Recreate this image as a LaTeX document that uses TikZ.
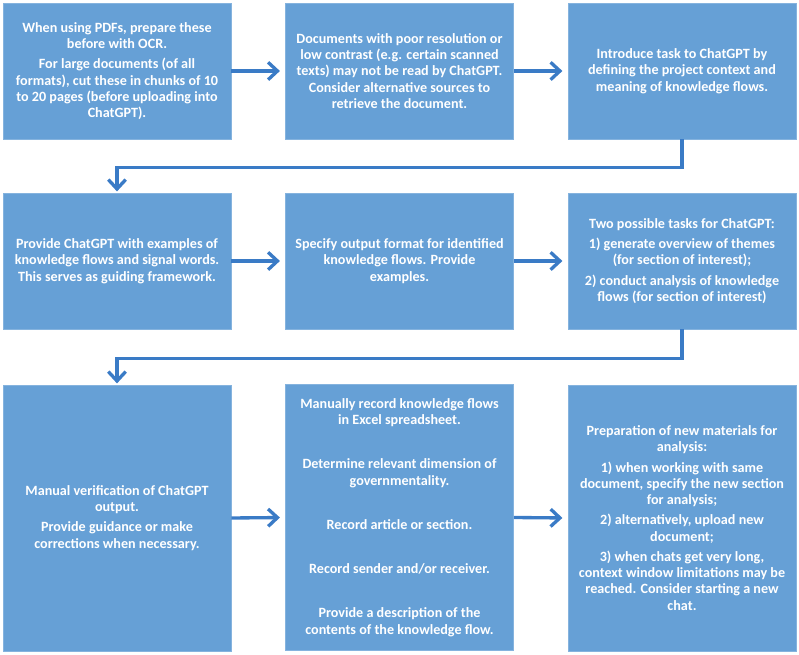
\documentclass[tikz,border=0pt]{standalone}
\usepackage{fontspec}
\setmainfont{Carlito}
\usetikzlibrary{arrows.meta}
\definecolor{boxblue}{RGB}{102,160,214}
\definecolor{arrblue}{RGB}{58,123,198}
\begin{document}
\begin{tikzpicture}[x=0.75pt,y=-0.75pt,
  box/.style={fill=boxblue, draw=boxblue!80!white, line width=0.4pt, inner sep=0pt,
    minimum width=171pt, align=center, text=white,
    font=\fontsize{10.6}{12.2}\selectfont\bfseries},
  rowa/.style={minimum height=102pt},
  rowc/.style={minimum height=199.5pt},
  arr/.style={draw=arrblue, line width=2.5pt, -{Straight Barb[length=7pt,width=13pt,line width=2.5pt]}}]
\useasboundingbox (0,0) rectangle (799,655);
% row 1
\node[box,rowa] (b1) at (117,71) {When using PDFs, prepare these\\ before with OCR.\\[3pt]
For large documents (of all\\ formats), cut these in chunks of 10\\ to 20 pages (before uploading into\\ ChatGPT).};
\node[box,rowa] (b2) at (399.5,71) {Documents with poor resolution or\\ low contrast (e.g. certain scanned\\ texts) may not be read by ChatGPT.\\ Consider alternative sources to\\ retrieve the document.};
\node[box,rowa] (b3) at (682,71) {Introduce task to ChatGPT by\\ defining the project context and\\ meaning of knowledge flows.};
% row 2
\node[box,rowa] (b4) at (117,261) {Provide ChatGPT with examples of\\ knowledge flows and signal words.\\ This serves as guiding framework.};
\node[box,rowa] (b5) at (399.5,261) {Specify output format for identified\\ knowledge flows. Provide\\ examples.};
\node[box,rowa] (b6) at (682,261) {Two possible tasks for ChatGPT:\\[3pt]
1) generate overview of themes\\ (for section of interest);\\[3pt]
2) conduct analysis of knowledge\\ flows (for section of interest)};
% row 3
\node[box,rowc] (b7) at (117,518) {Manual verification of ChatGPT\\ output.\\[3pt]
Provide guidance or make\\ corrections when necessary.};
\node[box,rowc] (b8) at (399.5,517.5) {Manually record knowledge flows\\ in Excel spreadsheet.\\[21pt]
Determine relevant dimension of\\ governmentality.\\[21pt]
Record article or section.\\[21pt]
Record sender and/or receiver.\\[21pt]
Provide a description of the\\ contents of the knowledge flow.};
\node[box,rowc] (b9) at (682,518) {Preparation of new materials for\\ analysis:\\[3pt]
1) when working with same\\ document, specify the new section\\ for analysis;\\[3pt]
2) alternatively, upload new\\ document;\\[3pt]
3) when chats get very long,\\ context window limitations may be\\ reached. Consider starting a new\\ chat.};
% connectors
\draw[arr, shorten >=4pt] (b1.east) -- (b2.west);
\draw[arr, shorten >=4pt] (b2.east) -- (b3.west);
\draw[arr] (b3.south) -- ++(0,28) -| ([yshift=1pt]b4.north);
\draw[arr, shorten >=4pt] (b4.east) -- (b5.west);
\draw[arr, shorten >=4pt] (b5.east) -- (b6.west);
\draw[arr] (b6.south) -- ++(0,29) -| ([yshift=1pt]b7.north);
\draw[arr, shorten >=4pt] (b7.east) -- (b8.west);
\draw[arr, shorten >=4pt] (b8.east) -- (b9.west);
\end{tikzpicture}
\end{document}
